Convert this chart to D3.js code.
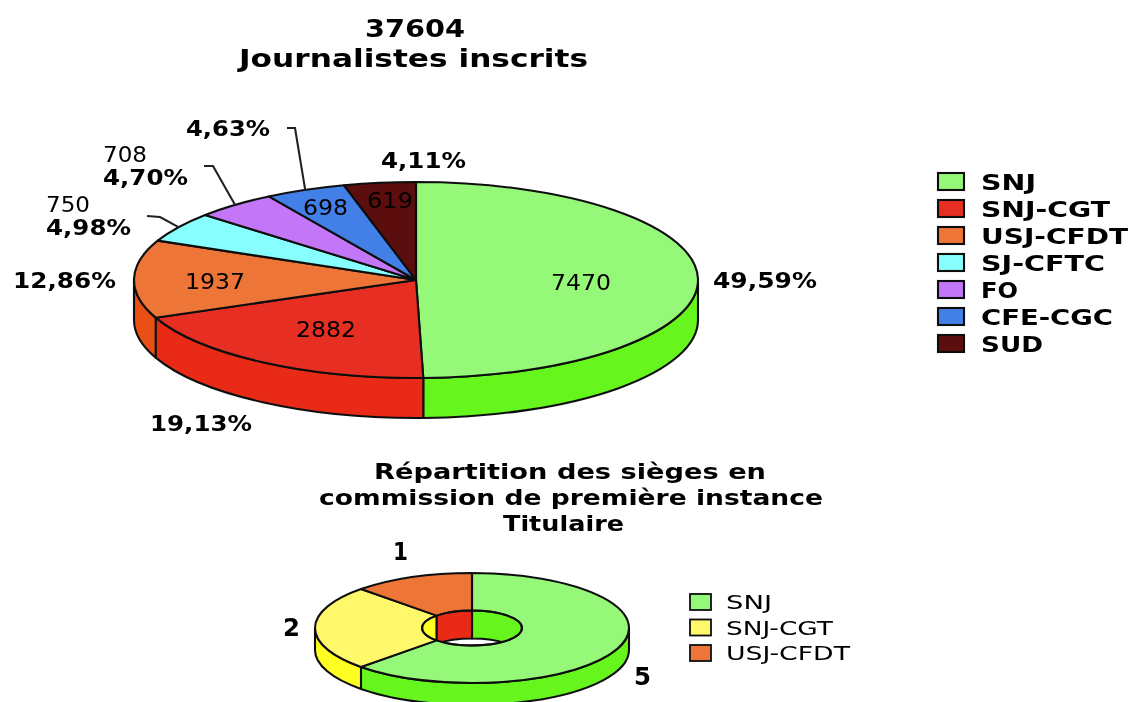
<!DOCTYPE html>
<html><head><meta charset="utf-8">
<script src="https://cdn.jsdelivr.net/npm/d3@7"></script>
<style>html,body{margin:0;padding:0;background:#fff}svg{display:block}text{font-family:"DejaVu Sans",sans-serif;fill:#000}</style>
</head><body><svg width="1130" height="702"></svg>
<script>
const categories = ["SNJ","SNJ-CGT","USJ-CFDT","SJ-CFTC","FO","CFE-CGC","SUD"];
const values = [7470,2882,1937,750,708,698,619];
const percents = ["49,59%","19,13%","12,86%","4,98%","4,70%","4,63%","4,11%"];
const topColors = ["#96f878","#e72f22","#ee7538","#88ffff","#c377f8","#4380e8","#5c0f08"];
const wallColors = ["#66f51e","#e82a14","#ea5018","#88ffff","#c377f8","#4380e8","#5c0f08"];
const seatCategories = ["SNJ","SNJ-CGT","USJ-CFDT"];
const seatValues = [5,2,1];
const seatTopColors = ["#96f878","#fff86b","#ee7538"];
const seatWallColors = ["#66f51e","#ffff22","#e82a14"];
const titleLines = ["37604","Journalistes inscrits"];
const seatTitleLines = ["Répartition des sièges en","commission de première instance","Titulaire"];

const svg = d3.select("svg");
svg.append("defs").append("filter").attr("id","soft").attr("filterUnits","userSpaceOnUse")
  .attr("x",0).attr("y",0).attr("width",1130).attr("height",702)
  .append("feGaussianBlur").attr("stdDeviation","0.7 0.45");
const root = svg.append("g").attr("filter","url(#soft)");

const TAU = 2*Math.PI;
const pie = d3.pie().sort(null).startAngle(0).endAngle(TAU);
const STROKE = 2.1;

function pt(g,a,r){ return [g.cx + r*g.rx*Math.sin(a), g.cy - r*g.ry*Math.cos(a)]; }
function arcTo(g,a0,a1,r,dy){
  const e = pt(g,a1,r), cw = a1>a0?1:0, large = Math.abs(a1-a0)>Math.PI?1:0;
  return `A${g.rx*r},${g.ry*r} 0 ${large} ${cw} ${e[0]},${e[1]+dy}`;
}
function topPath(g,a0,a1){
  const s = pt(g,a0,1);
  if(!g.hole){
    return `M${g.cx},${g.cy}L${s[0]},${s[1]}${arcTo(g,a0,a1,1,0)}Z`;
  }
  const i = pt(g,a1,g.hole);
  return `M${s[0]},${s[1]}${arcTo(g,a0,a1,1,0)}L${i[0]},${i[1]}${arcTo(g,a1,a0,g.hole,0)}Z`;
}
function bandPath(g,a0,a1,r,depth){
  const s = pt(g,a0,r), e = pt(g,a1,r);
  return `M${s[0]},${s[1]}${arcTo(g,a0,a1,r,0)}L${e[0]},${e[1]+depth}${arcTo(g,a1,a0,r,depth)}Z`;
}
function drawPie(g,vals,tops,walls){
  const arcs = pie(vals);
  const lay = root.append("g").attr("stroke","#111").attr("stroke-width",STROKE).attr("stroke-linejoin","round");
  arcs.forEach((d,i)=>{
    const a0 = Math.max(d.startAngle,Math.PI/2), a1 = Math.min(d.endAngle,1.5*Math.PI);
    if(a1>a0) lay.append("path").attr("d",bandPath(g,a0,a1,1,g.depth)).attr("fill",walls[i]);
  });
  arcs.forEach((d,i)=>{
    lay.append("path").attr("d",topPath(g,d.startAngle,d.endAngle)).attr("fill",tops[i]);
  });
  if(g.hole){
    const id = "holeClip";
    root.append("clipPath").attr("id",id).append("ellipse")
      .attr("cx",g.cx).attr("cy",g.cy).attr("rx",g.rx*g.hole).attr("ry",g.ry*g.hole);
    const wl = root.append("g").attr("clip-path",`url(#${id})`).attr("stroke","#111").attr("stroke-width",STROKE);
    arcs.forEach((d,i)=>{
      // only the far half of the hole wall can be seen
      [[d.startAngle,Math.min(d.endAngle,Math.PI/2)],[Math.max(d.startAngle,1.5*Math.PI),d.endAngle]].forEach(([a0,a1])=>{
        if(a1>a0) wl.append("path").attr("d",bandPath(g,a0,a1,g.hole,g.holeDepth)).attr("fill",walls[i]);
      });
    });
    root.append("ellipse").attr("cx",g.cx).attr("cy",g.cy).attr("rx",g.rx*g.hole).attr("ry",g.ry*g.hole)
      .attr("fill","none").attr("stroke","#111").attr("stroke-width",STROKE);
  }
  return arcs;
}
function label(t,x,y,w,size,bold,anchor){
  const n = root.append("text").attr("x",x).attr("y",y).attr("font-size",size)
    .attr("font-weight",bold?700:400).attr("text-anchor",anchor||"start").text(t);
  if(w) n.attr("textLength",w).attr("lengthAdjust","spacingAndGlyphs");
  return n;
}

const mainGeom = {cx:416,cy:280,rx:282,ry:98,depth:40};
const seatGeom = {cx:472,cy:628,rx:157,ry:55,depth:22,hole:0.318,holeDepth:28};
const mainArcs = drawPie(mainGeom,values,topColors,wallColors);
drawPie(seatGeom,seatValues,seatTopColors,seatWallColors);

// Leader lines (anchored on the rim at each slice's mid angle)
const leaders = [[3,[[147,216],[160,217]]],[4,[[204,166],[213,166]]],[5,[[287,128],[295,128]]]];
leaders.forEach(([i,pts])=>{
  const a = (mainArcs[i].startAngle+mainArcs[i].endAngle)/2;
  const rim = pt(mainGeom,a,1.0);
  root.append("path").attr("fill","none").attr("stroke","#222").attr("stroke-width",STROKE)
    .attr("d",d3.line()([...pts,rim]));
});

// Titles
label(titleLines[0],365,37,100,25,true);
label(titleLines[1],239,67,349,25,true);
label(seatTitleLines[0],374,479,392,22,true);
label(seatTitleLines[1],319,505,504,22,true);
label(seatTitleLines[2],503,531,121,22,true);

// Percent labels
const pctLayout = [[713,288,104],[150,431,102],[13,288,103],[46,235,85],[103,185,85],[186,136,84],[381,168,85]];
percents.forEach((p,i)=>{ const l=pctLayout[i]; label(p,l[0],l[1],l[2],22,true); });

// Value labels
const valLayout = [[551,290,60],[296,337,60],[185,289,60],[46,212,44],[103,162,44],[303,215,45],[367,208,46]];
values.forEach((v,i)=>{ const l=valLayout[i]; label(String(v),l[0],l[1],l[2],22,false); });

// Seat value labels
const seatLayout = [[634,685,17],[283,636,17],[393,560,15]];
seatValues.forEach((v,i)=>{ const l=seatLayout[i]; label(String(v),l[0],l[1],l[2],25,true); });

// Legends
const legW = [55,129,147,124,37,132,62];
const legScale = d3.scalePoint().domain(categories).range([190,352]);
categories.forEach((c,i)=>{
  const y = legScale(c);
  root.append("rect").attr("x",938).attr("y",y-17).attr("width",26).attr("height",17)
    .attr("fill",topColors[i]).attr("stroke","#111").attr("stroke-width",STROKE);
  label(c,981,y,legW[i],22,true);
});
const seatLegW = [46,107,124];
const seatLegScale = d3.scalePoint().domain(seatCategories).range([610,661]);
seatCategories.forEach((c,i)=>{
  const y = seatLegScale(c);
  root.append("rect").attr("x",690).attr("y",y-16).attr("width",21).attr("height",16)
    .attr("fill",seatTopColors[i]).attr("stroke","#111").attr("stroke-width",STROKE-0.3);
  label(c,726,y-1,seatLegW[i],19,false);
});
</script></body></html>
